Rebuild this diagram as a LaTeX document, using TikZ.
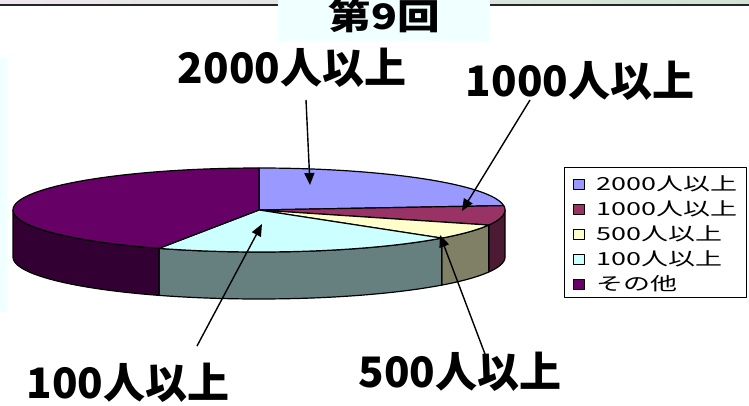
\documentclass[tikz,border=0pt]{standalone}
\usepackage{fontspec}
\newfontfamily\jpfont{Noto Sans CJK JP}
\usetikzlibrary{arrows.meta}
\definecolor{blu}{HTML}{9999FF}
\definecolor{mar}{HTML}{993366}
\definecolor{ylw}{HTML}{FFFFCC}
\definecolor{cyn}{HTML}{CCFFFF}
\definecolor{pur}{HTML}{660066}
\definecolor{marS}{HTML}{4D1A33}
\definecolor{ylwS}{HTML}{808066}
\definecolor{cynS}{HTML}{668080}
\definecolor{purS}{HTML}{330033}
\definecolor{panel}{HTML}{F0FFFF}
\definecolor{bandL}{HTML}{EEE6EE}
\definecolor{bandM}{HTML}{D3DFF0}
\definecolor{bandR}{HTML}{CFE3D4}
\def\pcx{259}\def\pcy{210}\def\prx{246}\def\pry{42}\def\pdz{47}
\begin{document}
\begin{tikzpicture}[x=1pt,y=-1pt,line join=round,line width=1.2pt,>={Triangle[length=12pt,width=10pt]},
  lbl/.style={font=\jpfont\bfseries\fontsize{42}{42}\selectfont,inner sep=0pt},
  lgd/.style={font=\jpfont\fontsize{18}{18}\selectfont,inner sep=0pt,anchor=west}]
\useasboundingbox (0,0) rectangle (749,406);
% background
\shade[left color=bandL,middle color=bandM,right color=bandR] (0,0) rectangle (749,5);
\draw[line width=2pt,black!85] (0,5.5)--(278,5.5) (490,5.5)--(749,5.5);
\fill[panel] (278,0) rectangle (490,41);
\fill[panel] (0,58) rectangle (7,312);
\node[font=\jpfont\bfseries\fontsize{35}{35}\selectfont,inner sep=0pt] (title) at (384,16) {\scalebox{1.22}[1]{第9回}};

% side walls
\foreach \a/\b/\c in {0/-21/marS,-21/-42/ylwS,-42/-114/cynS,-114/-180/purS}{
  \filldraw[fill=\c] plot[domain=\a:\b,samples=30] ({\pcx+\prx*cos(\x)},{\pcy-\pry*sin(\x)})
    -- plot[domain=\b:\a,samples=30] ({\pcx+\prx*cos(\x)},{\pcy-\pry*sin(\x)+\pdz}) -- cycle;
}
% top wedges
\foreach \a/\b/\c in {90/6/blu,6/-21/mar,-21/-42/ylw,-42/-114/cyn,-114/-270/pur}{
  \filldraw[fill=\c] (\pcx,\pcy) -- plot[domain=\a:\b,samples=60] ({\pcx+\prx*cos(\x)},{\pcy-\pry*sin(\x)}) -- cycle;
}

% labels
\node[lbl] (l2000) at (292,68) {2000人以上};
\node[lbl] (l1000) at (580,81) {1000人以上};
\node[lbl] (l100) at (128,383) {100人以上};
\node[lbl] (l500) at (460,372) {500人以上};

\coordinate (s2000) at (306,100);  \coordinate (t2000) at (310,185);
\coordinate (s1000) at (530,100);  \coordinate (t1000) at (462,211);
\coordinate (s100) at (197,346);   \coordinate (t100) at (262,224);
\coordinate (s500) at (488,362);   \coordinate (t500) at (440,235);
\draw[->,line width=1.4pt] (s2000) -- (t2000);
\draw[->,line width=1.4pt] (s1000) -- (t1000);
\draw[->,line width=1.4pt] (s100) -- (t100);
\draw[->,line width=1.4pt] (s500) -- (t500);

% legend
\draw[line width=.8pt] (564,167) rectangle (746,297);
\foreach \c/\t [count=\i] in {blu/2000人以上,mar/1000人以上,ylw/500人以上,cyn/100人以上,pur/その他}{
  \pgfmathsetmacro\yy{184+25*(\i-1)}
  \filldraw[fill=\c,line width=.8pt] (573,\yy-5) rectangle (584,\yy+5);
  \node[lgd] (k\i) at (596,\yy) {\scalebox{1.5}[1]{\t}};
}
\end{tikzpicture}
\end{document}
